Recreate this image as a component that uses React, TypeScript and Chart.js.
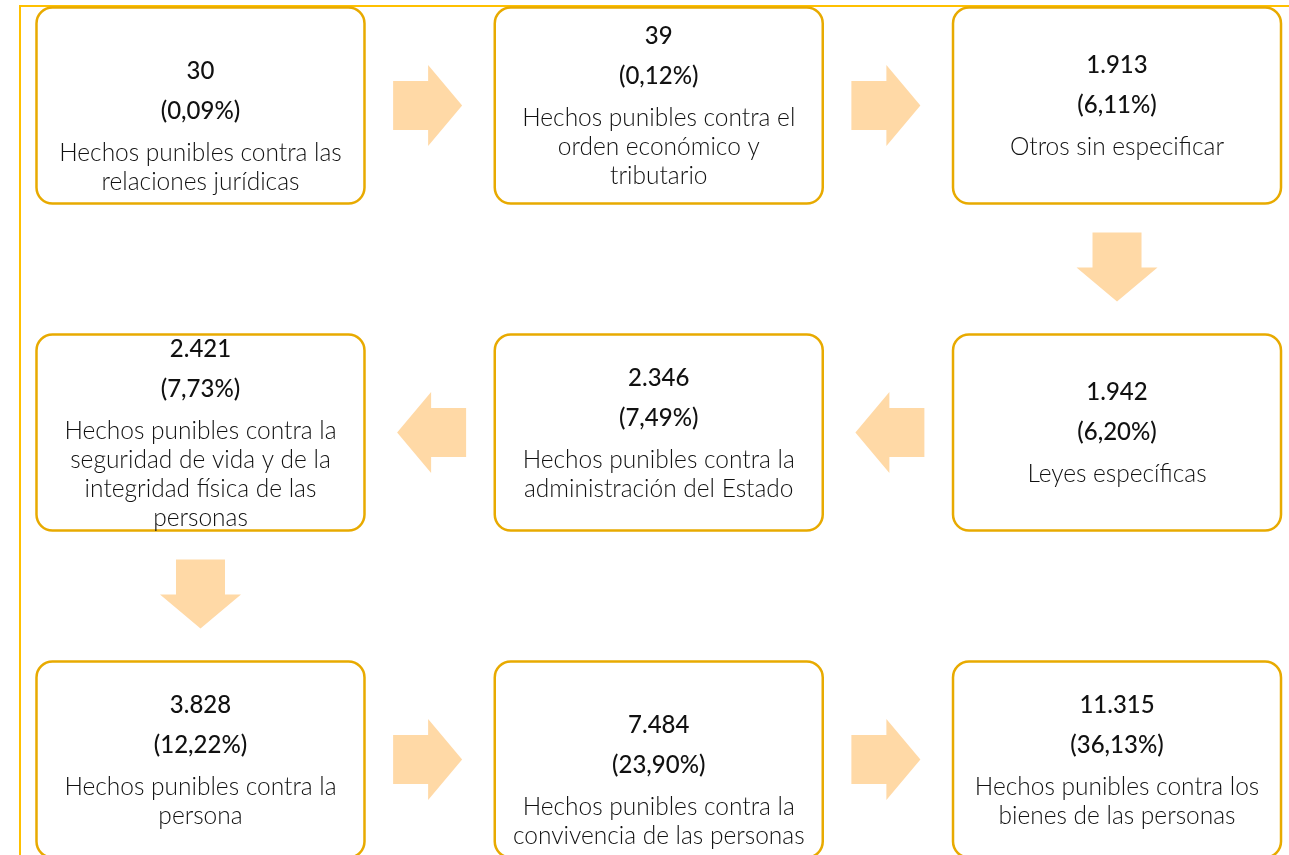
import React, { useEffect, useRef } from "react";
import { Chart, registerables } from "chart.js";

Chart.register(...registerables);

// ---- data ----
const valueLabels = ["30", "39", "1.913", "1.942", "2.346", "2.421", "3.828", "7.484", "11.315"];
const values = [30, 39, 1913, 1942, 2346, 2421, 3828, 7484, 11315];
const percentLabels = ["(0,09%)", "(0,12%)", "(6,11%)", "(6,20%)", "(7,49%)", "(7,73%)", "(12,22%)", "(23,90%)", "(36,13%)"];
const categories = [
  "Hechos punibles contra las\nrelaciones jurídicas",
  "Hechos punibles contra el\norden económico y\ntributario",
  "Otros sin especificar",
  "Leyes específicas",
  "Hechos punibles contra la\nadministración del Estado",
  "Hechos punibles contra la\nseguridad de vida y de la\nintegridad física de las\npersonas",
  "Hechos punibles contra la\npersona",
  "Hechos punibles contra la\nconvivencia de las personas",
  "Hechos punibles contra los\nbienes de las personas",
];

// ---- layout / style ----
const W = 1289;
const H = 855;
const BOX_W = 328;
const BOX_H = 196;
const RADIUS = 16;
const LEADING_BLANK = new Set([0, 7]);
const FRAME = "#FFC000";
const BORDER = "#E8AA00";
const ARROW = "#FFD9A6";
const TEXT = "#111111";
const FONT_NUM = "500 24px Lato, 'Open Sans', sans-serif";
const FONT_DESC = "300 24.5px Lato, 'Open Sans', sans-serif";

// serpentine grid placement derived from order
const points = values.map((v, i) => {
  const row = Math.floor(i / 3);
  const k = i % 3;
  const col = row % 2 === 0 ? k : 2 - k;
  return { x: col, y: row, v };
});

function roundRect(ctx: CanvasRenderingContext2D, x: number, y: number, w: number, h: number, r: number) {
  ctx.beginPath();
  ctx.moveTo(x + r, y);
  ctx.lineTo(x + w - r, y);
  ctx.arcTo(x + w, y, x + w, y + r, r);
  ctx.lineTo(x + w, y + h - r);
  ctx.arcTo(x + w, y + h, x + w - r, y + h, r);
  ctx.lineTo(x + r, y + h);
  ctx.arcTo(x, y + h, x, y + h - r, r);
  ctx.lineTo(x, y + r);
  ctx.arcTo(x, y, x + r, y, r);
  ctx.closePath();
}

function drawArrow(ctx: CanvasRenderingContext2D, cx: number, cy: number, dx: number, dy: number) {
  const total = 69;
  const headLen = 34;
  const shaftW = 49;
  const headW = 81;
  ctx.save();
  ctx.translate(cx, cy);
  ctx.rotate(Math.atan2(dy, dx));
  const x0 = -total / 2;
  const xh = total / 2 - headLen;
  const x1 = total / 2;
  ctx.beginPath();
  ctx.moveTo(x0, -shaftW / 2);
  ctx.lineTo(xh, -shaftW / 2);
  ctx.lineTo(xh, -headW / 2);
  ctx.lineTo(x1, 0);
  ctx.lineTo(xh, headW / 2);
  ctx.lineTo(xh, shaftW / 2);
  ctx.lineTo(x0, shaftW / 2);
  ctx.closePath();
  ctx.fillStyle = ARROW;
  ctx.fill();
  ctx.restore();
}

const flowPlugin = {
  id: "flowPlugin",
  beforeDraw(chart: any) {
    const ctx: CanvasRenderingContext2D = chart.ctx;
    ctx.save();
    ctx.fillStyle = "#ffffff";
    ctx.fillRect(0, 0, chart.width, chart.height);
    ctx.strokeStyle = FRAME;
    ctx.lineWidth = 2;
    ctx.beginPath();
    ctx.moveTo(chart.width, 6);
    ctx.lineTo(20, 6);
    ctx.lineTo(20, chart.height);
    ctx.stroke();
    ctx.restore();
  },
  afterDatasetsDraw(chart: any) {
    const ctx: CanvasRenderingContext2D = chart.ctx;
    const meta = chart.getDatasetMeta(0);
    const els = meta.data;
    ctx.save();
    // arrows
    for (let i = 0; i < els.length - 1; i++) {
      const a = els[i];
      const b = els[i + 1];
      const dx = b.x - a.x;
      const dy = b.y - a.y;
      const len = Math.hypot(dx, dy);
      const ux = dx / len;
      const uy = dy / len;
      const mx = (a.x + b.x) / 2 - ux * 2;
      const my = (a.y + b.y) / 2 - uy * 2;
      drawArrow(ctx, mx, my, dx, dy);
    }
    // boxes
    els.forEach((el: any, i: number) => {
      const cx = el.x;
      const cy = el.y;
      roundRect(ctx, cx - BOX_W / 2, cy - BOX_H / 2, BOX_W, BOX_H, RADIUS);
      ctx.fillStyle = "#ffffff";
      ctx.fill();
      ctx.strokeStyle = BORDER;
      ctx.lineWidth = 2.5;
      ctx.stroke();

      const lines = categories[i].split("\n");
      const lead = LEADING_BLANK.has(i) ? 40 : 0;
      const blockH = lead + 40 + 42 + 29 * (lines.length - 1);
      let y = cy - blockH / 2 + lead + 1;
      ctx.fillStyle = TEXT;
      ctx.textAlign = "center";
      ctx.textBaseline = "middle";
      ctx.font = FONT_NUM;
      ctx.fillText(valueLabels[i], cx, y);
      y += 40;
      ctx.fillText(percentLabels[i], cx, y);
      y += 42;
      ctx.font = FONT_DESC;
      lines.forEach((ln) => {
        ctx.fillText(ln, cx, y);
        y += 29;
      });
    });
    ctx.restore();
  },
};

export default function App() {
  const ref = useRef<HTMLCanvasElement | null>(null);
  useEffect(() => {
    document.body.style.margin = "0";
    if (!ref.current) return;
    const chart = new Chart(ref.current, {
      type: "scatter",
      data: {
        datasets: [
          {
            label: "Hechos punibles",
            data: points,
            pointRadius: 0,
            pointHoverRadius: 0,
            showLine: false,
          },
        ],
      },
      options: {
        animation: false,
        responsive: false,
        layout: { padding: 0 },
        plugins: {
          legend: { display: false },
          tooltip: { enabled: false },
        },
        scales: {
          x: { type: "linear", display: false, min: -0.4375, max: 2.3753 },
          y: { type: "linear", display: false, reverse: true, min: -0.3226, max: 2.292 },
        },
      },
      plugins: [flowPlugin],
    });
    return () => chart.destroy();
  }, []);
  return <canvas ref={ref} width={W} height={H} style={{ display: "block" }} />;
}
